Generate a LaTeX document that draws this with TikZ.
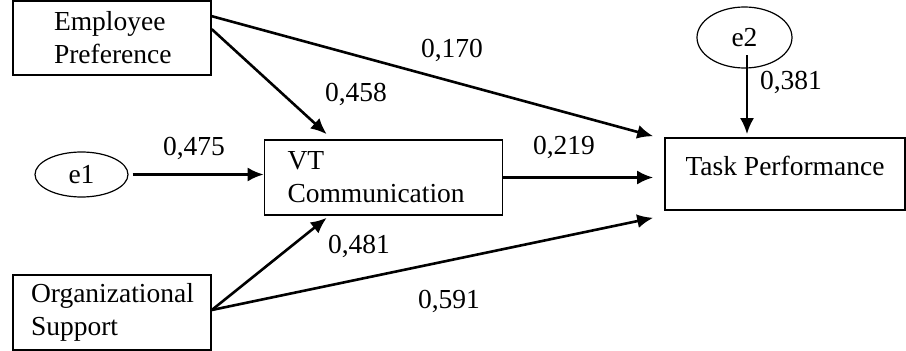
\documentclass[tikz,border=0pt]{standalone}
\usepackage{fontspec}
\setmainfont{Liberation Serif}
\usetikzlibrary{arrows.meta,shapes.geometric}
\begin{document}
\begin{tikzpicture}[x=1pt,y=-1pt,
  font=\fontsize{27.5}{33}\selectfont,
  box/.style={draw, line width=1.6pt, inner ysep=0pt, minimum height=75pt, align=left},
  err/.style={draw, ellipse, line width=1.2pt, inner sep=0pt},
  arr/.style={line width=2.6pt, -{Latex[length=16pt,width=14pt]}},
  coef/.style={inner sep=0pt}]
\useasboundingbox (0,0) rectangle (906,351);
\node[box, minimum height=74pt, text width=116pt, inner xsep=41pt] (ep) at (112,38) {Employee\\Preference};
\node[box, text width=162pt, inner xsep=18pt] (os) at (112,312.5) {Organizational\\Support};
\node[box, text width=192pt, inner xsep=23pt] (vt) at (383.5,177.5) {VT\\Communication};
\node[draw, line width=1.6pt, inner sep=0pt, minimum width=240pt, text height=37pt, text depth=35pt] (tp) at (785,174) {Task Performance};
\node[err, minimum width=93pt, minimum height=45pt] (e1) at (81.5,174.5) {e1};
\node[err, minimum width=95pt, minimum height=61pt] (e2) at (744.5,37.5) {e2};
\coordinate (e2out) at ([xshift=2.5pt,yshift=-17.5pt]e2.center);
\draw[arr] ([yshift=-16pt]ep.north east) -- ([xshift=-11pt,yshift=1pt]tp.north west);
\draw[arr] ([yshift=-29pt]ep.north east) -- ([xshift=63pt,yshift=5pt]vt.north west);
\draw[arr, shorten <=4pt] (e1.east) -- (e1.east -| vt.west);
\draw[arr, shorten >=11pt] (vt.east) -- (vt.east -| tp.west);
\draw[arr] ([yshift=2.5pt]os.east) -- ([xshift=63pt,yshift=-2pt]vt.south west);
\draw[arr] ([yshift=2.5pt]os.east) -- ([xshift=-11pt,yshift=-7pt]tp.south west);
\draw[arr, shorten >=3pt] (e2out) -- (e2out |- tp.north);
\node[coef] (c1) at (452,50) {0,170};
\node[coef] (c2) at (356,94) {0,458};
\node[coef] (c3) at (194,148) {0,475};
\node[coef] (c4) at (564,147) {0,219};
\node[coef] (c5) at (359,246) {0,481};
\node[coef] (c6) at (449,301) {0,591};
\node[coef] (c7) at (791,82) {0,381};
\end{tikzpicture}
\end{document}
